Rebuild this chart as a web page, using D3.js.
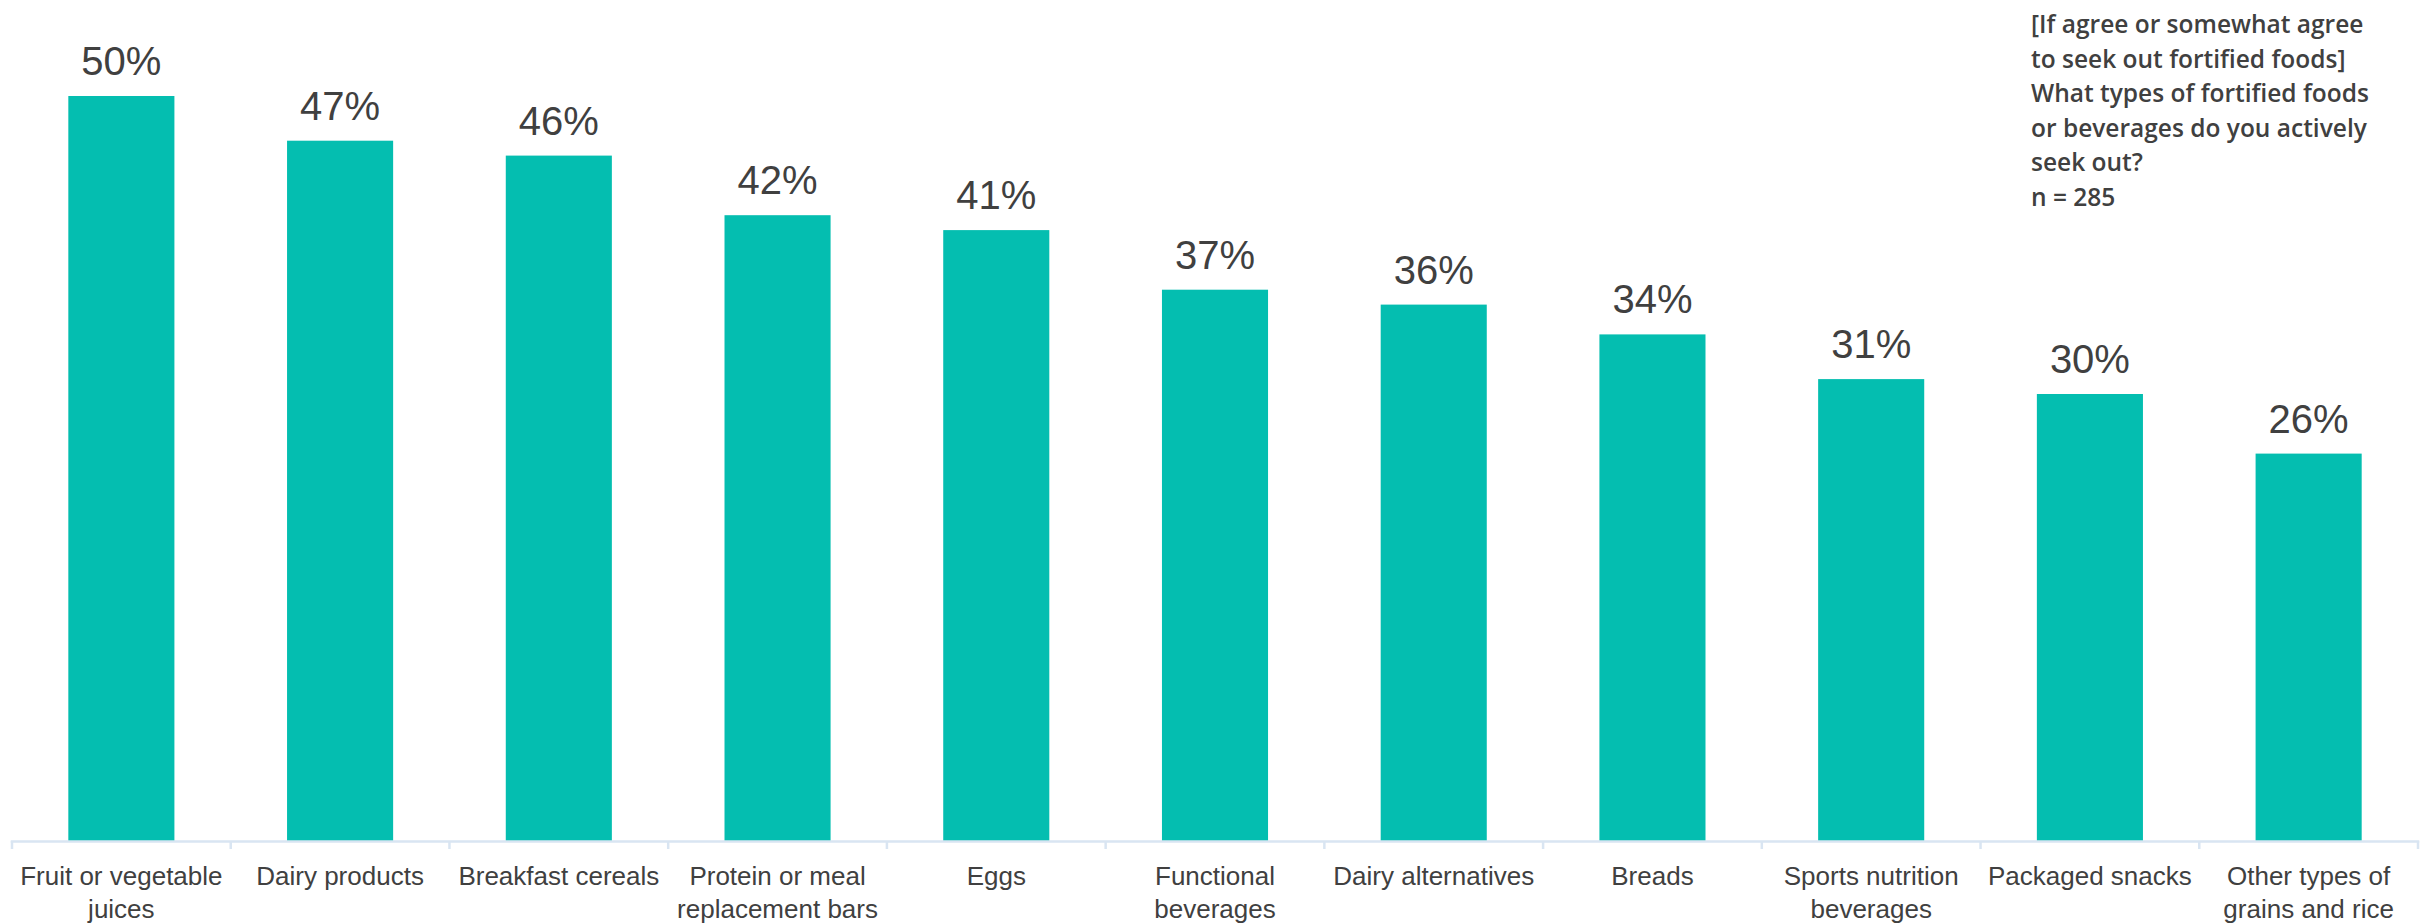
<!DOCTYPE html>
<html>
<head>
<meta charset="utf-8">
<script src="https://cdn.jsdelivr.net/npm/d3@7"></script>
<style>
  html, body { margin: 0; padding: 0; background: #ffffff; }
  svg { display: block; }
</style>
</head>
<body>
<svg id="chart" width="2423" height="924"></svg>
<script>
// Food / beverage categories, with the line breaks used under the axis
const categories = [
  "Fruit or vegetable\njuices",
  "Dairy products",
  "Breakfast cereals",
  "Protein or meal\nreplacement bars",
  "Eggs",
  "Functional\nbeverages",
  "Dairy alternatives",
  "Breads",
  "Sports nutrition\nbeverages",
  "Packaged snacks",
  "Other types of\ngrains and rice"
];

// Share of respondents who actively seek out each type
const shares = [0.50, 0.47, 0.46, 0.42, 0.41, 0.37, 0.36, 0.34, 0.31, 0.30, 0.26];

// Question note shown in the top-right corner
const noteLines = [
  "[If agree or somewhat agree",
  "to seek out fortified foods]",
  "What types of fortified foods",
  "or beverages do you actively",
  "seek out?",
  "n = 285"
];

const svg = d3.select("#chart");

const x = d3.scaleBand()
  .domain(categories)
  .range([12, 2418])
  .paddingInner(0.515)
  .paddingOuter(0.2575);

const y = d3.scaleLinear()
  .domain([0, 0.5])
  .range([841, 96]);

const textColor = "#404040";

// Bars
svg.append("g")
  .selectAll("rect")
  .data(categories)
  .join("rect")
  .attr("x", d => x(d))
  .attr("width", x.bandwidth())
  .attr("y", (d, i) => y(shares[i]))
  .attr("height", (d, i) => y(0) - y(shares[i]))
  .attr("fill", "#04BEB0");

// Value labels above bars
svg.append("g")
  .selectAll("text")
  .data(categories)
  .join("text")
  .attr("x", d => x(d) + x.bandwidth() / 2)
  .attr("y", (d, i) => y(shares[i]) - 21)
  .attr("text-anchor", "middle")
  .attr("font-family", "'Liberation Sans', Arial, sans-serif")
  .attr("font-size", 40)
  .attr("fill", textColor)
  .text((d, i) => d3.format(".0%")(shares[i]));

// Category axis: baseline with ticks at band boundaries
const axisColor = "#D9E5F2";
const axis = svg.append("g");
const [r0, r1] = x.range();
axis.append("line")
  .attr("x1", r0 - 1.25).attr("x2", r1 + 1.25)
  .attr("y1", y(0) + 0.5).attr("y2", y(0) + 0.5)
  .attr("stroke", axisColor)
  .attr("stroke-width", 2.5);

const step = x.step();
const boundaries = d3.range(categories.length + 1).map(i => r0 + i * step);
axis.selectAll("line.tick")
  .data(boundaries)
  .join("line")
  .attr("class", "tick")
  .attr("x1", d => d).attr("x2", d => d)
  .attr("y1", y(0)).attr("y2", y(0) + 8)
  .attr("stroke", axisColor)
  .attr("stroke-width", 2.5);

// Category labels (wrapped)
const labels = axis.selectAll("text.cat")
  .data(categories)
  .join("text")
  .attr("class", "cat")
  .attr("text-anchor", "middle")
  .attr("font-family", "'Liberation Sans', Arial, sans-serif")
  .attr("font-size", 26)
  .attr("fill", textColor);

labels.each(function(d) {
  const cx = x(d) + x.bandwidth() / 2;
  d3.select(this).selectAll("tspan")
    .data(d.split("\n"))
    .join("tspan")
    .attr("x", cx)
    .attr("y", (t, j) => 885 + j * 33)
    .text(t => t);
});

// Question note
svg.append("g")
  .selectAll("text")
  .data(noteLines)
  .join("text")
  .attr("x", 2031)
  .attr("y", (d, i) => 33 + i * 34.5)
  .attr("font-family", "'Open Sans', 'Liberation Sans', sans-serif")
  .attr("font-weight", 600)
  .attr("font-size", 24.5)
  .attr("fill", textColor)
  .text(d => d);
</script>
</body>
</html>
